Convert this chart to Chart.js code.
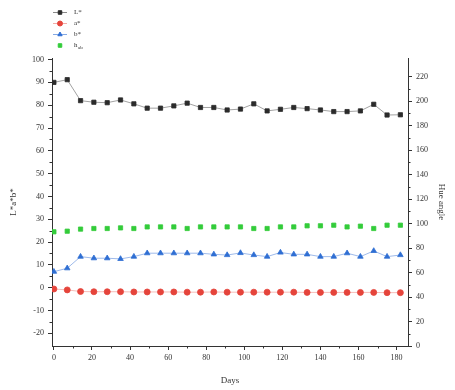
<!DOCTYPE html>
<html>
<head>
<meta charset="utf-8">
<script src="https://cdn.jsdelivr.net/npm/chart.js@4.4.1/dist/chart.umd.min.js"></script>
<style>
  html, body { margin: 0; padding: 0; background: #fff; }
  #wrap { width: 455px; height: 390px; }
</style>
</head>
<body>
<div id="wrap"><canvas id="c" width="455" height="390"></canvas></div>
<script>
// sampling days (weekly, 0..182)
const DAYS = [0, 7, 14, 21, 28, 35, 42, 49, 56, 63, 70, 77, 84, 91, 98,
  105, 112, 119, 126, 133, 140, 147, 154, 161, 168, 175, 182];

const L_STAR = [90.0, 91.2, 82.0, 81.3, 81.1, 82.3, 80.6, 78.7, 78.7, 79.7, 80.9, 79.0, 79.0, 77.9, 78.3,
  80.6, 77.5, 78.2, 79.0, 78.5, 77.9, 77.2, 77.2, 77.5, 80.4, 75.7, 75.8];
const A_STAR = [-0.6, -1.0, -1.7, -1.8, -1.8, -1.8, -1.9, -1.9, -1.9, -1.9, -2.0, -2.0, -1.9, -2.0, -2.0,
  -2.0, -2.0, -2.0, -2.0, -2.1, -2.1, -2.1, -2.1, -2.1, -2.1, -2.2, -2.2];
const B_STAR = [7.0, 8.5, 13.6, 12.9, 12.9, 12.6, 13.6, 15.1, 15.1, 15.1, 15.1, 15.1, 14.6, 14.3, 15.2,
  14.3, 13.6, 15.4, 14.6, 14.6, 13.6, 13.6, 15.1, 13.6, 16.1, 13.6, 14.3];
const HUE = [93.3, 93.8, 95.5, 96.0, 96.0, 96.5, 96.0, 97.3, 97.3, 97.3, 96.0, 97.3, 97.3, 97.3, 97.3,
  96.0, 96.0, 97.3, 97.3, 98.2, 98.2, 98.7, 97.3, 97.9, 96.0, 98.7, 98.7];

const X_TICKS = [0, 20, 40, 60, 80, 100, 120, 140, 160, 180];
const LEFT_TICKS = [-20, -10, 0, 10, 20, 30, 40, 50, 60, 70, 80, 90, 100];
const RIGHT_TICKS = [0, 20, 40, 60, 80, 100, 120, 140, 160, 180, 200, 220];

const LEGEND_LABELS = ['L*', 'a*', 'b*', 'h'];
const AXIS = '#333';
const FONT = 'Liberation Serif';

const pts = ys => DAYS.map((d, i) => ({ x: d, y: ys[i] }));
const fixTicks = list => scale => { scale.ticks = list.map(v => ({ value: v })); };

// small unlabelled ticks half way between the labelled ones
const minorTicks = {
  id: 'minorTicks',
  afterDraw(chart) {
    const { ctx } = chart;
    const { x, y, y2 } = chart.scales;
    const mid = arr => arr.slice(1).map((v, i) => (v + arr[i]) / 2);
    ctx.save();
    ctx.strokeStyle = AXIS;
    ctx.lineWidth = 1;
    ctx.beginPath();
    mid(X_TICKS).forEach(v => {
      const p = Math.round(x.getPixelForValue(v)) + 0.5;
      ctx.moveTo(p, x.top); ctx.lineTo(p, x.top + 2.5);
    });
    mid(LEFT_TICKS).forEach(v => {
      const p = Math.round(y.getPixelForValue(v)) + 0.5;
      ctx.moveTo(y.right, p); ctx.lineTo(y.right - 2.5, p);
    });
    mid(RIGHT_TICKS).forEach(v => {
      const p = Math.round(y2.getPixelForValue(v)) + 0.5;
      ctx.moveTo(y2.left, p); ctx.lineTo(y2.left + 2.5, p);
    });
    ctx.stroke();
    ctx.restore();
  }
};

// stacked legend in the top-left corner
const cornerLegend = {
  id: 'cornerLegend',
  afterDraw(chart) {
    const { ctx } = chart;
    ctx.save();
    chart.data.datasets.forEach((ds, i) => {
      const cy = 12.5 + i * 11;
      const cx = 60;
      ctx.strokeStyle = ds.borderColor;
      ctx.fillStyle = ds.pointBackgroundColor;
      if (ds.showLine !== false) {
        ctx.lineWidth = 1;
        ctx.beginPath(); ctx.moveTo(53, cy); ctx.lineTo(67, cy); ctx.stroke();
      }
      ctx.strokeStyle = ds.pointBackgroundColor;
      Chart.helpers.drawPoint(ctx, { pointStyle: ds.pointStyle, radius: 2.5, borderWidth: 1, rotation: 0 }, cx, cy);
      ctx.fillStyle = AXIS;
      ctx.textBaseline = 'middle';
      ctx.font = `7px "${FONT}"`;
      ctx.fillText(LEGEND_LABELS[i], 74, cy);
      if (i === 3) {
        ctx.font = `5px "${FONT}"`;
        ctx.fillText('ab', 78, cy + 2);
      }
    });
    ctx.restore();
  }
};

const tickFont = { family: FONT, size: 8 };
const titleFont = { family: FONT, size: 9 };
const gridOpts = { drawOnChartArea: false, drawTicks: true, tickLength: 4, color: AXIS };

new Chart(document.getElementById('c'), {
  type: 'line',
  data: {
    datasets: [
      { label: 'L*', data: pts(L_STAR), yAxisID: 'y', pointStyle: 'rect',
        borderColor: 'rgba(60,60,60,0.6)', pointBackgroundColor: '#2b2b2b', pointBorderColor: '#2b2b2b',
        borderWidth: 0.8, pointRadius: 3 },
      { label: 'a*', data: pts(A_STAR), yAxisID: 'y', pointStyle: 'circle',
        borderColor: 'rgba(230,70,60,0.45)', pointBackgroundColor: '#e5443b', pointBorderColor: '#e5443b',
        borderWidth: 0.8, pointRadius: 3 },
      { label: 'b*', data: pts(B_STAR), yAxisID: 'y', pointStyle: 'triangle',
        borderColor: 'rgba(50,110,210,0.6)', pointBackgroundColor: '#2f6ed3', pointBorderColor: '#2f6ed3',
        borderWidth: 0.8, pointRadius: 3.2 },
      { label: 'hab', data: pts(HUE), yAxisID: 'y2', pointStyle: 'rect', showLine: false,
        borderColor: '#33cc3a', pointBackgroundColor: '#33cc3a', pointBorderColor: '#33cc3a',
        borderWidth: 0.8, pointRadius: 3 },
    ],
  },
  options: {
    responsive: false,
    animation: false,
    layout: { padding: { top: 58, left: 4, right: 4, bottom: 0 } },
    plugins: { legend: { display: false }, tooltip: { enabled: false } },
    scales: {
      x: {
        type: 'linear', min: -1, max: 186,
        afterBuildTicks: fixTicks(X_TICKS),
        afterFit: s => { s.height = 44; },
        grid: gridOpts, border: { color: AXIS, width: 1 },
        ticks: { font: tickFont, color: AXIS, padding: 3, autoSkip: false, maxRotation: 0 },
        title: { display: true, text: 'Days', font: titleFont, color: AXIS, padding: { top: 2, bottom: 4 } },
      },
      y: {
        position: 'left', min: -25.6, max: 100.7,
        afterBuildTicks: fixTicks(LEFT_TICKS),
        afterFit: s => { s.width = 48; },
        grid: gridOpts, border: { color: AXIS, width: 1 },
        ticks: { font: tickFont, color: AXIS, padding: 4, autoSkip: false },
        title: { display: true, text: 'L*a*b*', font: titleFont, color: AXIS, padding: 4 },
      },
      y2: {
        position: 'right', min: 0, max: 235.3,
        afterBuildTicks: fixTicks(RIGHT_TICKS),
        afterFit: s => { s.width = 43; },
        grid: gridOpts, border: { color: AXIS, width: 1 },
        ticks: { font: tickFont, color: AXIS, padding: 4, autoSkip: false },
        title: { display: true, text: 'Hue angle', font: titleFont, color: AXIS, padding: 4 },
      },
    },
  },
  plugins: [minorTicks, cornerLegend],
});
</script>
</body>
</html>
